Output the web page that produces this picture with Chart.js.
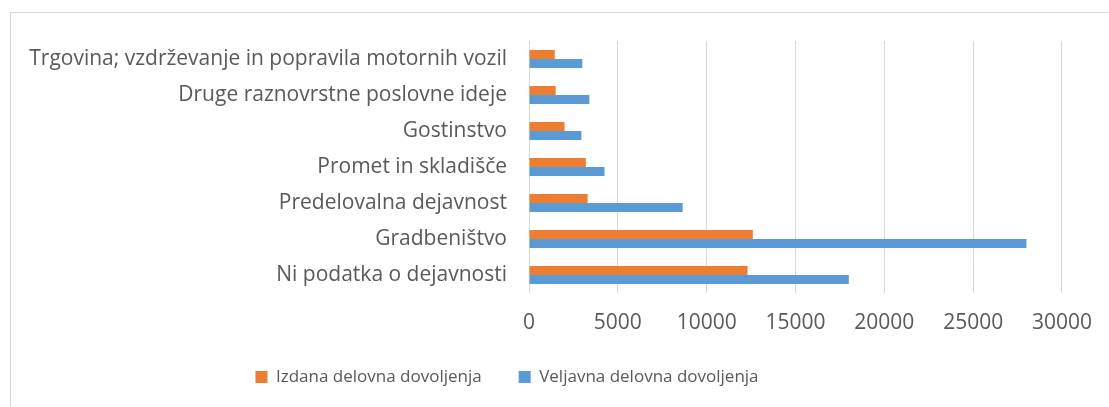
<!DOCTYPE html>
<html>
<head>
<meta charset="utf-8">
<script src="https://cdn.jsdelivr.net/npm/chart.js@4"></script>
<style>
  html, body { margin: 0; padding: 0; background: #fff; }
  #wrap { position: relative; width: 1109px; height: 407px; overflow: hidden; }
  #frame { position: absolute; left: 10px; top: 12px; width: 1200px; height: 500px; border: 1px solid #d9d9d9; box-sizing: border-box; }
  canvas { position: absolute; left: 0; top: 0; }
</style>
</head>
<body>
<div id="wrap">
  <div id="frame"></div>
  <canvas id="c" width="1109" height="407"></canvas>
</div>
<script>
const categories = [
  "Trgovina; vzdrževanje in popravila motornih vozil",
  "Druge raznovrstne poslovne ideje",
  "Gostinstvo",
  "Promet in skladišče",
  "Predelovalna dejavnost",
  "Gradbeništvo",
  "Ni podatka o dejavnosti"
];
const izdana = [1450, 1500, 2000, 3200, 3300, 12600, 12300];
const veljavna = [3000, 3400, 2950, 4250, 8650, 28000, 18000];
const seriesNames = ["Izdana delovna dovoljenja", "Veljavna delovna dovoljenja"];
const xMin = 0, xMax = 30000, xStep = 5000;

const textColor = "#595959";
const gridColor = "#d9d9d9";
const fontFamily = "'Open Sans', sans-serif";

const legendShift = {
  id: "legendShift",
  afterLayout(chart) {
    if (chart.legend) { chart.legend.left -= 36; chart.legend.right -= 36; }
  }
};

new Chart(document.getElementById("c"), {
  type: "bar",
  data: {
    labels: categories,
    datasets: [
      { label: seriesNames[0], data: izdana, backgroundColor: "#ED7D31", borderWidth: 0,
        categoryPercentage: 0.5, barPercentage: 1.0 },
      { label: seriesNames[1], data: veljavna, backgroundColor: "#5B9BD5", borderWidth: 0,
        categoryPercentage: 0.5, barPercentage: 1.0 }
    ]
  },
  plugins: [legendShift],
  options: {
    indexAxis: "y",
    responsive: false,
    animation: false,
    devicePixelRatio: 1,
    layout: { padding: { left: 20, right: 43, top: 41, bottom: 11.5 } },
    plugins: {
      tooltip: { enabled: false },
      legend: {
        position: "bottom",
        labels: {
          color: textColor,
          font: { family: fontFamily, size: 17 },
          boxWidth: 12, boxHeight: 12,
          padding: 37
        }
      }
    },
    scales: {
      x: {
        min: xMin, max: xMax,
        ticks: { stepSize: xStep, color: textColor, font: { family: fontFamily, size: 21 }, padding: 17,
                 maxRotation: 0, callback: (v) => String(v) },
        grid: { color: gridColor, lineWidth: 1, drawTicks: false },
        border: { display: false },
        afterFit: (scale) => { scale.height = 38.5; }
      },
      y: {
        ticks: { color: textColor, font: { family: fontFamily, size: 21 }, padding: 22, autoSkip: false },
        grid: { display: false, drawTicks: false },
        border: { display: false },
        afterFit: (scale) => { scale.width = 509; }
      }
    }
  }
});
</script>
</body>
</html>
